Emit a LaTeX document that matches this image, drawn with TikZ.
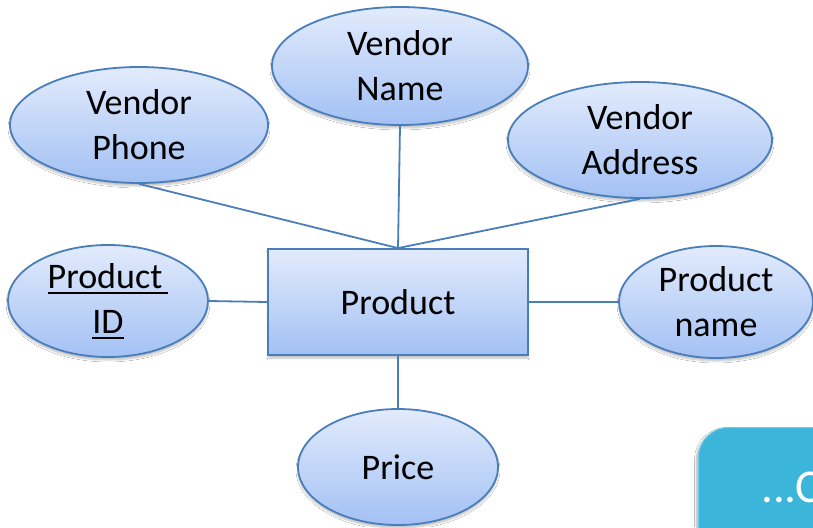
\documentclass[tikz,border=0pt]{standalone}
\usepackage{fontspec}
\setmainfont{Carlito}
\usetikzlibrary{shapes.geometric,shadows.blur}
\definecolor{erline}{HTML}{4A7EBB}
\definecolor{ertop}{HTML}{E2EBFC}
\definecolor{erbot}{HTML}{A3C1F4}
\definecolor{tealbox}{HTML}{3BB5DA}
\definecolor{tealedge}{HTML}{6FCBE8}
% thick underline used for key attributes
\newcommand\keyul[1]{\setbox0\hbox{#1}\rlap{\rule[-6pt]{\wd0}{2.4pt}}\box0}
\tikzset{
  erfont/.style={font=\fontsize{36}{45}\selectfont, align=center, text=black},
  attr/.style={ellipse, draw=erline, line width=1.8pt, inner sep=0pt,
    top color=ertop, bottom color=erbot, erfont,
    blur shadow={shadow xshift=0pt, shadow yshift=-3pt, shadow blur steps=6, shadow opacity=25}},
  entity/.style={rectangle, draw=erline, line width=1.8pt, inner sep=0pt,
    top color=ertop, bottom color=erbot, erfont,
    minimum width=260pt, minimum height=106pt,
    blur shadow={shadow xshift=0pt, shadow yshift=-3pt, shadow blur steps=6, shadow opacity=25}},
  link/.style={draw=erline, line width=1.8pt},
}
\begin{document}
\begin{tikzpicture}[x=1pt,y=-1pt]
\useasboundingbox (0,0) rectangle (813,527);
\clip (0,0) rectangle (813,527);
\fill[white] (0,0) rectangle (813,527);

% entity
\node[entity] (prod) at (398,302) {Product};

% attributes
\node[attr, minimum width=256pt, minimum height=118pt] (vname) at (400,66) {Vendor\\Name};
\node[attr, minimum width=258pt, minimum height=116pt] (vphone) at (139,125) {Vendor\\Phone};
\node[attr, minimum width=264pt, minimum height=116pt] (vaddr) at (640,140) {Vendor\\Address};
\node[attr, minimum width=200pt, minimum height=112pt] (pid) at (108,301) {\keyul{Product\,}\\\keyul{ID}};
\node[attr, minimum width=194pt, minimum height=112pt] (pname) at (716,302) {Product\\name};
\node[attr, minimum width=200pt, minimum height=116pt] (price) at (398,467) {Price};

% relationships between entity and attributes
\draw[link] (vphone.south) -- (prod.north);
\draw[link] (vname.south) -- (prod.north);
\draw[link] (vaddr.south) -- (prod.north);
\draw[link] (pid.east) -- (prod.west);
\draw[link] (prod.east) -- (pname.west);
\draw[link] (prod.south) -- (price.north);

% navigation button in the corner
\node[rectangle, rounded corners=30pt, fill=tealbox, draw=tealedge, line width=1pt,
      anchor=north west, minimum width=220pt, minimum height=180pt,
      blur shadow={shadow xshift=-2pt, shadow yshift=-2pt, shadow blur steps=6, shadow opacity=30}]
      (more) at (698,427) {};
\node[anchor=base west, inner sep=0pt, text=white, font=\fontsize{47}{50}\selectfont] (moretext) at (761,502) {...C};
\end{tikzpicture}
\end{document}
